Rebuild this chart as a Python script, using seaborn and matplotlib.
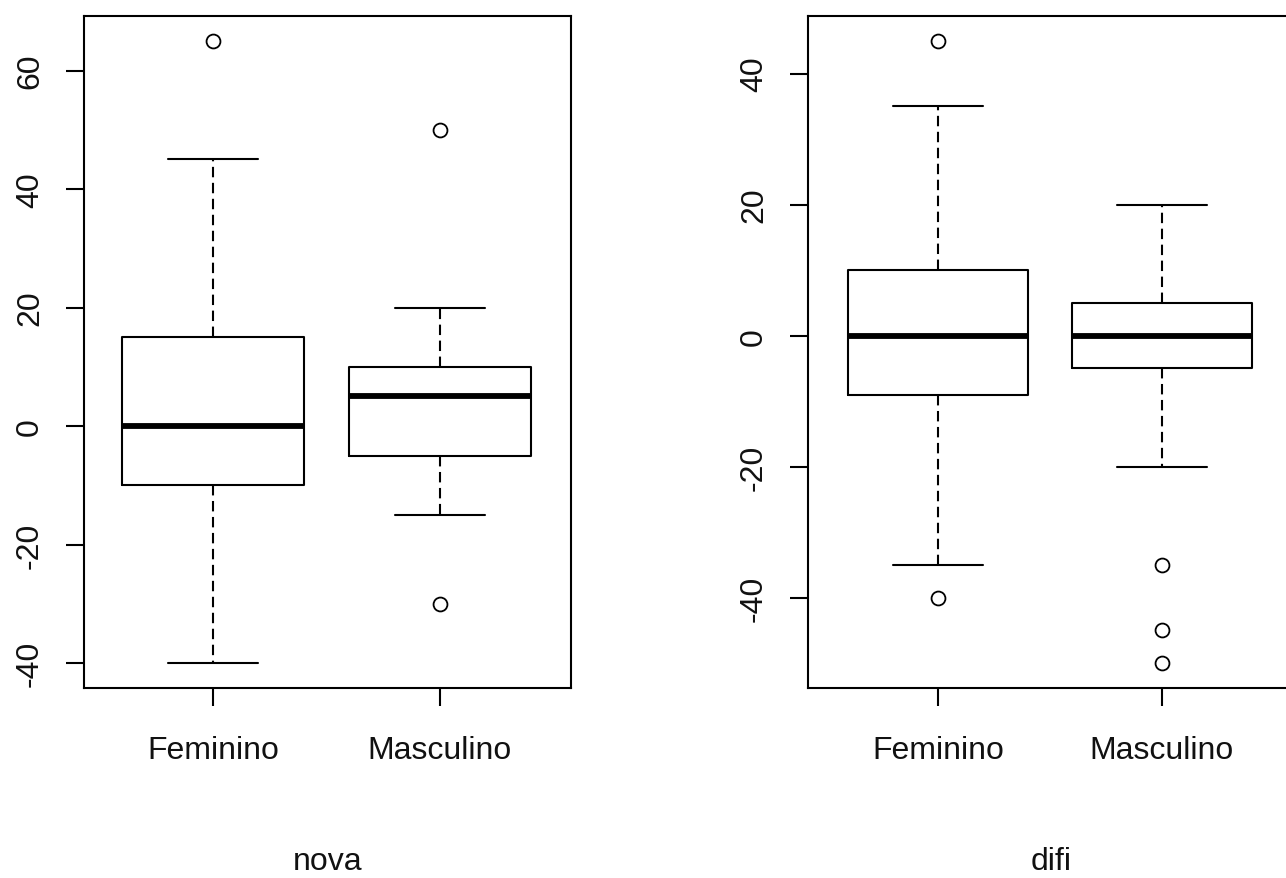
import numpy as np
import pandas as pd
import matplotlib
matplotlib.use("Agg")
import matplotlib.pyplot as plt
import seaborn as sns

# ---- data (observations chosen to reproduce the read-off box statistics) ----
groups = ["Feminino", "Masculino"]

nova_feminino = [-40, -10, -10, -10, -10, 0, 0, 0, 0, 15, 15, 15, 15, 45, 65]
nova_masculino = [-30, -15, -5, -5, -5, -5, 5, 5, 5, 5, 10, 10, 10, 10, 20, 50]
difi_feminino = [-40, -35, -9, -9, -9, -9, 0, 0, 0, 0, 10, 10, 10, 10, 35, 45]
difi_masculino = [-50, -45, -35, -20, -5, -5, -5, -5, 0, 0, 0, 0, 5, 5, 5, 5, 20]

nova_ticks = [-40, -20, 0, 20, 40, 60]
difi_ticks = [-40, -20, 0, 20, 40]
nova_ylim = (-44.2, 69.2)
difi_ylim = (-53.8, 48.8)

def long_frame(fem, masc):
    return pd.DataFrame({
        "grupo": ["Feminino"] * len(fem) + ["Masculino"] * len(masc),
        "valor": list(fem) + list(masc),
    })

nova_df = long_frame(nova_feminino, nova_masculino)
difi_df = long_frame(difi_feminino, difi_masculino)

# ---- style ----
sns.set_theme(style="ticks")
plt.rcParams["font.family"] = ["Liberation Sans", "DejaVu Sans"]
plt.rcParams["lines.scale_dashes"] = False

FS = 23
fig = plt.figure(figsize=(12.86, 8.79), dpi=100)
ax1 = fig.add_axes([84 / 1286, 190 / 879, 487 / 1286, 672 / 879])
ax2 = fig.add_axes([808 / 1286, 190 / 879, 487 / 1286, 672 / 879])

box_kw = dict(
    order=groups,
    color="black",
    linecolor="black",
    fill=False,
    width=0.8,
    whis=1.5,
    linewidth=1.5,
    boxprops=dict(linewidth=1.5, color="black"),
    medianprops=dict(linewidth=4.2, color="black", solid_capstyle="butt"),
    whiskerprops=dict(linewidth=1.5, color="black", linestyle=(0, (7.5, 4))),
    capprops=dict(linewidth=1.5, color="black"),
    flierprops=dict(marker="o", markersize=10, markerfacecolor="none",
                    markeredgecolor="black", markeredgewidth=1.3),
)

panels = [
    (ax1, nova_df, "nova", nova_ticks, nova_ylim, (-0.568, 1.577)),
    (ax2, difi_df, "difi", difi_ticks, difi_ylim, (-0.580, 1.594)),
]

for ax, df, label, ticks, ylim, xlim in panels:
    sns.boxplot(data=df, x="grupo", y="valor", ax=ax, **box_kw)
    ax.set_xlim(*xlim)
    ax.set_ylim(*ylim)
    ax.set_yticks(ticks)
    ax.set_yticklabels([str(t) for t in ticks], rotation=90, va="center")
    ax.set_ylabel("")
    ax.set_xlabel(label, fontsize=FS, labelpad=58, color="#111111")
    for sp in ax.spines.values():
        sp.set_visible(True)
        sp.set_linewidth(1.5)
        sp.set_color("black")
    ax.tick_params(axis="both", direction="out", length=13, width=1.5,
                   color="black", labelsize=FS, labelcolor="#111111")
    ax.tick_params(axis="x", pad=21)
    ax.tick_params(axis="y", pad=15)
    ax.grid(False)
    ax.set_facecolor("white")

fig.patch.set_facecolor("white")
fig.savefig("out.png", dpi=100, facecolor="white")
